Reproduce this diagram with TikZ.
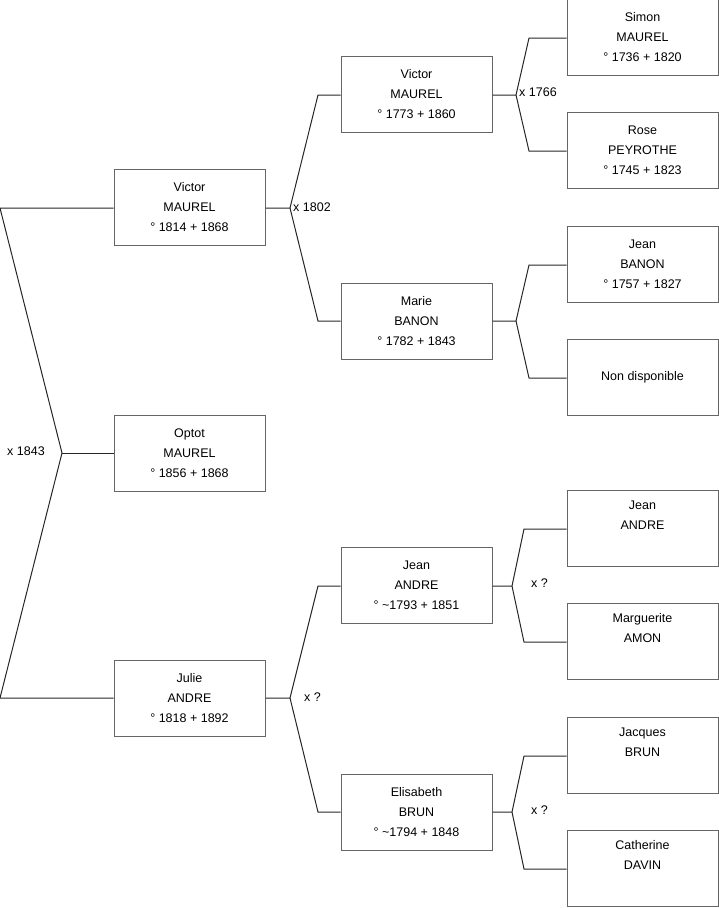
\documentclass[tikz,border=0pt]{standalone}
\usepackage{fontspec}
\setmainfont{Liberation Sans}
\begin{document}
\begin{tikzpicture}[x=1pt,y=-1pt,
  person/.style={draw=black!60,line width=1pt,minimum width=151pt,minimum height=76pt,inner sep=0pt,align=center,font=\fontsize{12.5}{20}\selectfont},
  link/.style={draw=black!85,line width=1pt},
  lbl/.style={font=\fontsize{12.5}{15}\selectfont,inner sep=0pt,anchor=west}]
\useasboundingbox (0,0) rectangle (719,908);
% column 1
\node[person] (v1) at (189.5,207) {Victor\\MAUREL\\° 1814 + 1868};
\node[person] (o1) at (189.5,453) {Optot\\MAUREL\\° 1856 + 1868};
\node[person] (j1) at (189.5,698) {Julie\\ANDRE\\° 1818 + 1892};
% column 2
\node[person] (v2) at (416.5,94) {Victor\\MAUREL\\° 1773 + 1860};
\node[person] (m2) at (416.5,321) {Marie\\BANON\\° 1782 + 1843};
\node[person] (j2) at (416.5,585) {Jean\\ANDRE\\° \textasciitilde1793 + 1851};
\node[person] (e2) at (416.5,812) {Elisabeth\\BRUN\\° \textasciitilde1794 + 1848};
% column 3
\node[person] (s3) at (642.5,37) {Simon\\MAUREL\\° 1736 + 1820};
\node[person] (r3) at (642.5,150) {Rose\\PEYROTHE\\° 1745 + 1823};
\node[person] (jb3) at (642.5,264) {Jean\\BANON\\° 1757 + 1827};
\node[person] (nd3) at (642.5,377) {Non disponible};
\node[person] (ja3) at (642.5,528) {Jean\\ANDRE\\\strut};
\node[person] (ma3) at (642.5,641) {Marguerite\\AMON\\\strut};
\node[person] (jq3) at (642.5,755) {Jacques\\BRUN\\\strut};
\node[person] (c3) at (642.5,868) {Catherine\\DAVIN\\\strut};
% root couple
\coordinate (r0a) at (0,208);
\coordinate (r0m) at (62,453);
\coordinate (r0b) at (0,698);
\draw[link] (v1.west |- r0a) -- (r0a) -- (r0m) -- (r0b) -- (j1.west |- r0b);
\draw[link] (r0m) -- (o1.west |- r0m);
\node[lbl] (l0) at (7,451) {x 1843};
% Victor 1814 parents
\coordinate (a1) at (290,208);
\coordinate (a1t) at (318,95);
\coordinate (a1b) at (318,321);
\draw[link] (v1.east |- a1) -- (a1) -- (a1t) -- (v2.west |- a1t);
\draw[link] (a1) -- (a1b) -- (m2.west |- a1b);
\node[lbl] (l1) at (293,207) {x 1802};
% Julie parents
\coordinate (a2) at (290,698);
\coordinate (a2t) at (318,586);
\coordinate (a2b) at (318,812);
\draw[link] (j1.east |- a2) -- (a2) -- (a2t) -- (j2.west |- a2t);
\draw[link] (a2) -- (a2b) -- (e2.west |- a2b);
\node[lbl] (l2) at (304,697) {x ?};
% Victor 1773 parents
\coordinate (b1) at (516,95);
\coordinate (b1t) at (529,38);
\coordinate (b1b) at (529,151);
\draw[link] (v2.east |- b1) -- (b1) -- (b1t) -- (s3.west |- b1t);
\draw[link] (b1) -- (b1b) -- (r3.west |- b1b);
\node[lbl] (l3) at (519,92) {x 1766};
% Marie parents
\coordinate (b2) at (516,321);
\coordinate (b2t) at (529,265);
\coordinate (b2b) at (529,378);
\draw[link] (m2.east |- b2) -- (b2) -- (b2t) -- (jb3.west |- b2t);
\draw[link] (b2) -- (b2b) -- (nd3.west |- b2b);
% Jean ANDRE parents
\coordinate (b3) at (512,586);
\coordinate (b3t) at (524,529);
\coordinate (b3b) at (524,642);
\draw[link] (j2.east |- b3) -- (b3) -- (b3t) -- (ja3.west |- b3t);
\draw[link] (b3) -- (b3b) -- (ma3.west |- b3b);
\node[lbl] (l4) at (531,583) {x ?};
% Elisabeth parents
\coordinate (b4) at (512,812);
\coordinate (b4t) at (524,756);
\coordinate (b4b) at (524,869);
\draw[link] (e2.east |- b4) -- (b4) -- (b4t) -- (jq3.west |- b4t);
\draw[link] (b4) -- (b4b) -- (c3.west |- b4b);
\node[lbl] (l5) at (531,810) {x ?};
\end{tikzpicture}
\end{document}
